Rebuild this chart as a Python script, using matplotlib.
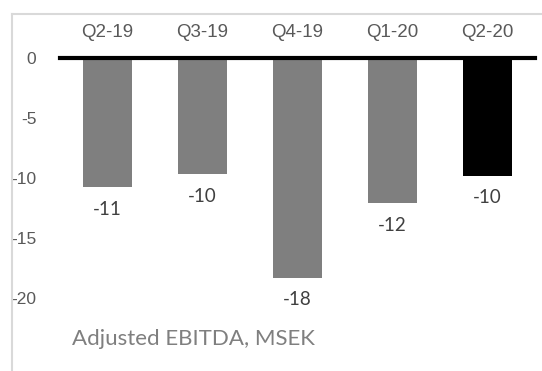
import numpy as np
import matplotlib
matplotlib.use("Agg")
from matplotlib import pyplot as plt
from matplotlib.lines import Line2D

quarters = ["Q2-19", "Q3-19", "Q4-19", "Q1-20", "Q2-20"]
ebitda = [-10.75, -9.7, -18.3, -12.1, -9.8]
labels = ["-11", "-10", "-18", "-12", "-10"]
bar_colors = ["#7f7f7f", "#7f7f7f", "#7f7f7f", "#7f7f7f", "#000000"]
yticks = [0, -5, -10, -15, -20]

fig = plt.figure(figsize=(5.42, 3.71), dpi=100)
ax = fig.add_axes([60 / 542, 73 / 371, 475 / 542, 240 / 371])

x = np.arange(len(quarters))
ax.bar(x, ebitda, width=0.52, color=bar_colors, zorder=2)
ax.axhline(0, color="black", lw=3, zorder=3, clip_on=False)

# value labels under each bar
for xi, v, lab in zip(x, ebitda, labels):
    ax.annotate(lab, (xi, v), xytext=(0, -16), textcoords="offset points",
                ha="center", va="center", fontsize=13.5, color="#404040",
                family="Lato")

ax.set_xlim(-0.5, 4.5)
ax.set_ylim(-20, 0)
ax.set_xticks(x)
ax.set_xticklabels(quarters, family="Liberation Sans", fontsize=13.5, color="#595959")
ax.xaxis.set_ticks_position("top")
ax.tick_params(axis="x", length=0, pad=12)
ax.set_yticks(yticks)
ax.set_yticklabels([str(t) for t in yticks], family="Liberation Sans", fontsize=12.5, color="#595959")
ax.tick_params(axis="y", length=0, pad=17)
for s in ax.spines.values():
    s.set_visible(False)

fig.text(72 / 542, 1 - 339 / 371, "Adjusted EBITDA, MSEK", family="Lato",
         fontsize=16, color="#7f7f7f", va="center", ha="left")

# light frame on top and left
fig.add_artist(Line2D([12 / 542, 1], [1 - 14 / 371, 1 - 14 / 371], color="#d9d9d9", lw=1.5))
fig.add_artist(Line2D([12 / 542, 12 / 542], [0, 1 - 14 / 371], color="#d9d9d9", lw=1.5))

fig.savefig("out.png", dpi=100)
